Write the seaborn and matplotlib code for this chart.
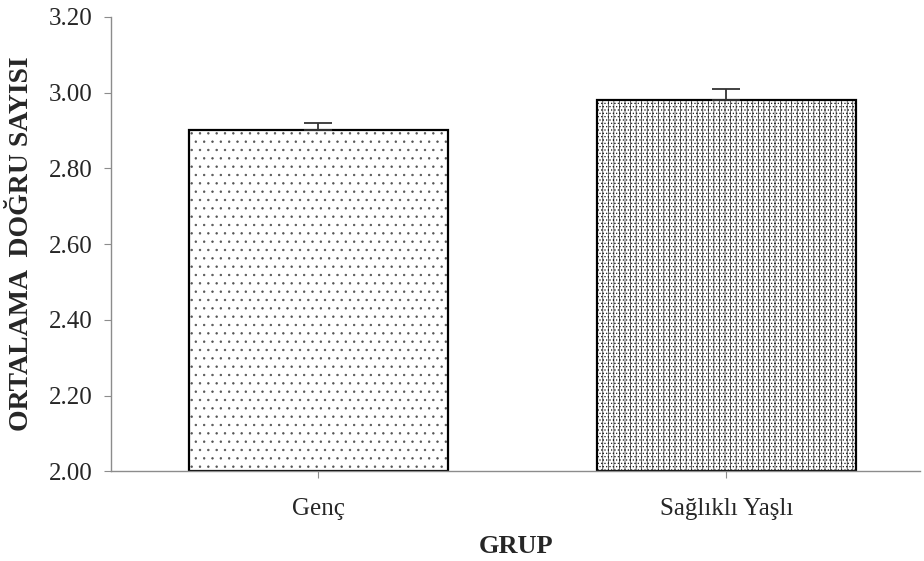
import matplotlib
matplotlib.use("Agg")
import matplotlib.pyplot as plt
import seaborn as sns
import pandas as pd

# Veri
gruplar = ["Genç", "Sağlıklı Yaşlı"]
ortalama = [2.90, 2.98]
hata = [0.02, 0.03]
desenler = ["..", "|||....."]
desen_renk = ["#555555", "#222222"]
taban = 2.0

sns.set_style("white")
plt.rcParams["font.family"] = ["Liberation Serif", "DejaVu Serif"]
plt.rcParams["hatch.linewidth"] = 0.5

df = pd.DataFrame({"GRUP": gruplar, "ORT": ortalama})

fig = plt.figure(figsize=(9.24, 5.61), dpi=100)
ax = fig.add_axes([0.120, 0.160, 0.876, 0.810])

# desenli dolgu
sns.barplot(data=df, x="GRUP", y="ORT", color="white", errorbar=None,
            width=0.636, linewidth=0, ax=ax)
n = len(ax.patches)
for bar, desen, renk in zip(ax.patches, desenler, desen_renk):
    bar.set_hatch(desen)
    bar.set_edgecolor(renk)

# siyah çerçeve
sns.barplot(data=df, x="GRUP", y="ORT", fill=False, errorbar=None,
            width=0.636, edgecolor="black", linewidth=1.6, ax=ax)

# çubukları 2.00 tabanından başlat
for i, bar in enumerate(ax.patches):
    deger = ortalama[i % n]
    bar.set_y(taban)
    bar.set_height(deger - taban)

ax.errorbar(range(len(gruplar)), ortalama, yerr=[[0] * len(hata), hata],
            fmt="none", ecolor="#333333", elinewidth=1.3, capsize=10,
            capthick=1.3, zorder=5)

yticks = [2.0, 2.2, 2.4, 2.6, 2.8, 3.0, 3.2]
ax.set_ylim(2.0, 3.2)
ax.set_xlim(-0.509, 1.476)
ax.set_yticks(yticks)
ax.set_yticklabels([f"{v:.2f}" for v in yticks])

for s in ["top", "right"]:
    ax.spines[s].set_visible(False)
for s in ["left", "bottom"]:
    ax.spines[s].set_color("#8c8c8c")
    ax.spines[s].set_linewidth(1.0)

ax.tick_params(axis="y", direction="out", length=5, color="#8c8c8c",
               labelsize=18, left=True, pad=8)
ax.tick_params(axis="x", direction="out", length=5, color="#8c8c8c",
               labelsize=18, bottom=True, pad=14)

ax.set_xlabel("GRUP", fontsize=19, fontweight="bold", labelpad=11)
ax.set_ylabel("ORTALAMA  DOĞRU SAYISI", fontsize=20, fontweight="bold", labelpad=11)

plt.savefig("out.png", dpi=100)
